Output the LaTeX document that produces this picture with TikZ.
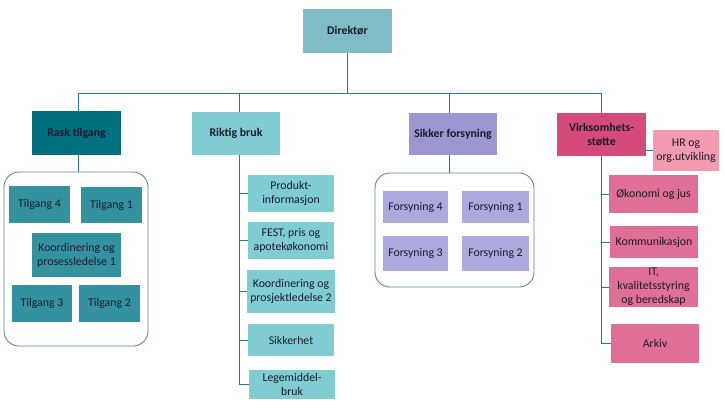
\documentclass[tikz,border=0pt]{standalone}
\usepackage{fontspec}
\setmainfont{Carlito}
\begin{document}
\begin{tikzpicture}[x=1pt,y=-1pt,
  box/.style={rectangle,inner sep=1pt,align=center,text=txt,font=\fontsize{11.8}{13.8}\selectfont},
  head/.style={box,font=\fontsize{11.8}{13.8}\selectfont\bfseries},
  con/.style={draw=ln,line width=0.9pt},
  grp/.style={draw=grpc,line width=0.9pt,rounded corners=15pt}]
\definecolor{txt}{HTML}{1B1B2B}
\definecolor{ln}{HTML}{1F7F8C}
\definecolor{grpc}{HTML}{5F8690}
\definecolor{cdir}{HTML}{80BCC6}
\definecolor{crask}{HTML}{00707F}
\definecolor{ctil}{HTML}{3491A0}
\definecolor{crik}{HTML}{7FCDD3}
\definecolor{csik}{HTML}{9C97D0}
\definecolor{cfor}{HTML}{ADA9DC}
\definecolor{cvirk}{HTML}{D34A7B}
\definecolor{chr}{HTML}{F29AB0}
\definecolor{cvk}{HTML}{DF6F96}
\useasboundingbox (0,0) rectangle (725,408);
% containers
\draw[grp] (4,172) rectangle (148,346);
\draw[grp] (375,173) rectangle (534,287);
% level 0
\node[head,fill=cdir,minimum width=89pt,minimum height=44pt] (dir) at (347.5,31) {Direktør};
% level 1
\node[head,fill=crask,minimum width=89pt,minimum height=44pt] (rask) at (76.5,133) {Rask tilgang};
\node[head,fill=crik,minimum width=88pt,minimum height=43pt] (rik) at (236,133.5) {Riktig bruk};
\node[head,fill=csik,minimum width=88pt,minimum height=42pt] (sik) at (453,134) {Sikker forsyning};
\node[head,fill=cvirk,minimum width=89pt,minimum height=43pt] (virk) at (601.5,134.5) {Virksomhets-\\støtte};
% Rask tilgang children
\node[box,fill=ctil,minimum width=61pt,minimum height=37pt] (t4) at (39.5,204.5) {Tilgang 4};
\node[box,fill=ctil,minimum width=61pt,minimum height=36pt] (t1) at (111.5,205) {Tilgang 1};
\node[box,fill=ctil,minimum width=89pt,minimum height=44pt] (k1) at (76.5,255) {Koordinering og\\prosessledelse 1};
\node[box,fill=ctil,minimum width=60pt,minimum height=37pt] (t3) at (42,303.5) {Tilgang 3};
\node[box,fill=ctil,minimum width=61pt,minimum height=37pt] (t2) at (109.5,303.5) {Tilgang 2};
% Riktig bruk children
\node[box,fill=crik,minimum width=86pt,minimum height=37pt] (prod) at (291,193.5) {Produkt-\\informasjon};
\node[box,fill=crik,minimum width=86pt,minimum height=37pt] (fest) at (291,240.5) {FEST, pris og\\apotekøkonomi};
\node[box,fill=crik,minimum width=88pt,minimum height=43pt] (k2) at (291,291.5) {Koordinering og\\prosjektledelse 2};
\node[box,fill=crik,minimum width=86pt,minimum height=32pt] (sikh) at (291,340) {Sikkerhet};
\node[box,fill=crik,minimum width=86pt,minimum height=29pt] (leg) at (292,384.5) {Legemiddel-\\bruk};
% Sikker forsyning children
\node[box,fill=cfor,minimum width=65pt,minimum height=32pt] (f4) at (415.5,207) {Forsyning 4};
\node[box,fill=cfor,minimum width=67pt,minimum height=32pt] (f1) at (495.5,207) {Forsyning 1};
\node[box,fill=cfor,minimum width=65pt,minimum height=35pt] (f3) at (415.5,253.5) {Forsyning 3};
\node[box,fill=cfor,minimum width=67pt,minimum height=35pt] (f2) at (495.5,253.5) {Forsyning 2};
% Virksomhetsstotte children
\node[box,fill=chr,minimum width=66pt,minimum height=41pt] (hr) at (686,150.5) {HR og\\org.utvikling};
\node[box,fill=cvk,minimum width=89pt,minimum height=38pt] (oko) at (653.5,194) {Økonomi og jus};
\node[box,fill=cvk,minimum width=88pt,minimum height=32pt] (kom) at (654,242) {Kommunikasjon};
\node[box,fill=cvk,minimum width=89pt,minimum height=38pt] (it) at (653.5,287) {IT,\\kvalitetsstyring\\og beredskap};
\node[box,fill=cvk,minimum width=88pt,minimum height=39pt] (ark) at (655,343.5) {Arkiv};
% group anchors
\coordinate (g1top) at (78,172);
\coordinate (g2top) at (449,173);
% bus
\coordinate (busL) at (78,93);
\coordinate (busR) at (601,93);
\coordinate (rikx) at (239,93);
\coordinate (sikx) at (449,93);
\draw[con] (dir.south) -- (dir.south|-busL);
\draw[con] (busL) -- (busR);
\draw[con] (busL) -- (busL|-rask.north);
\draw[con] (rikx) -- (rikx|-rik.north);
\draw[con] (sikx) -- (sikx|-sik.north);
\draw[con] (busR) -- (busR|-virk.north);
% groups
\draw[con] (g1top|-rask.south) -- (g1top);
\draw[con] (g2top|-sik.south) -- (g2top);
% Riktig bruk tree
\draw[con] (rikx|-rik.south) -- (rikx|-leg.west) -- (leg.west);
\foreach \n in {prod,fest,k2,sikh} \draw[con] (rikx|-\n.west) -- (\n.west);
% Virksomhet tree
\draw[con] (busR|-virk.south) -- (busR|-ark.west) -- (ark.west);
\foreach \n in {oko,kom,it} \draw[con] (busR|-\n.west) -- (\n.west);
\draw[con] (virk.east|-hr.west) -- (hr.west);
\end{tikzpicture}
\end{document}
